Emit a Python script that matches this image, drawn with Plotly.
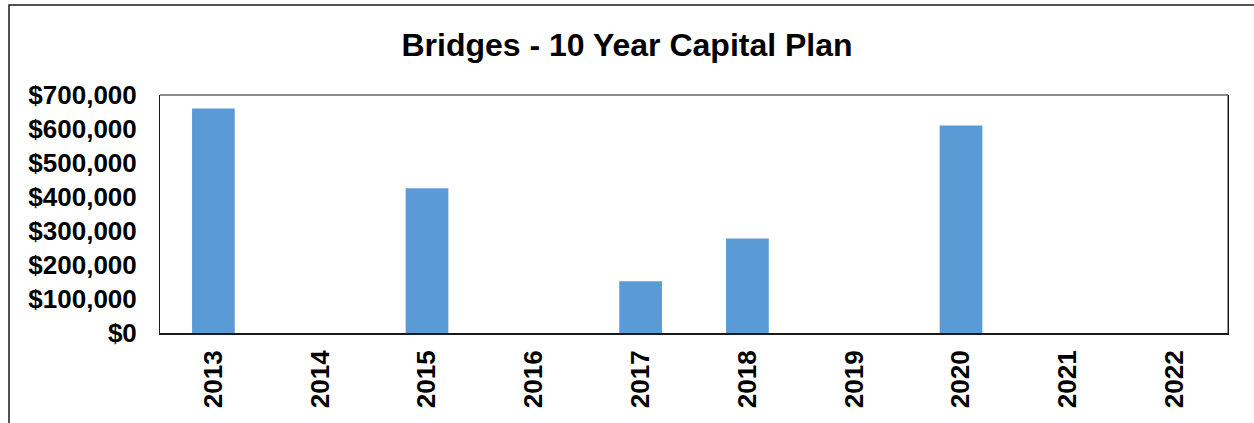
import plotly.graph_objects as go

years = ["2013", "2014", "2015", "2016", "2017", "2018", "2019", "2020", "2021", "2022"]
values = [660000, 0, 426000, 0, 152000, 278000, 0, 610000, 0, 0]
tick_vals = [0, 100000, 200000, 300000, 400000, 500000, 600000, 700000]
tick_text = ["$0", "$100,000", "$200,000", "$300,000", "$400,000", "$500,000", "$600,000", "$700,000"]
title_text = "Bridges - 10 Year Capital Plan"

FONT = "Liberation Sans, Arial, sans-serif"

fig = go.Figure(go.Bar(
    x=years, y=values,
    marker=dict(color="#5B9BD5", line=dict(color="#A9C9EA", width=0)),
))

W, H = 1254, 423
L, R, T, B = 160, 26, 95, 90
pw, ph = W - L - R, H - T - B

def px_x(p):
    return (p - L) / pw

def px_y(p):
    return (H - B - p) / ph

fig.update_layout(
    width=W, height=H,
    margin=dict(l=L, r=R, t=T, b=B, autoexpand=False),
    paper_bgcolor="white", plot_bgcolor="white",
    bargap=0.6,
    showlegend=False,
    title=dict(text=title_text, x=0.5, xanchor="center", y=1 - 45 / H, yanchor="middle",
               xref="container", yref="container",
               font=dict(family=FONT, size=32, color="black", weight="bold")),
    xaxis=dict(
        type="category", tickangle=-90, automargin=False,
        tickfont=dict(family=FONT, size=26, color="black", weight="bold"),
        showline=True, linecolor="#1a1a1a", linewidth=2, mirror=False,
        showgrid=False, ticks="", ticklabelstandoff=5,
    ),
    yaxis=dict(
        range=[0, 700000], tickvals=tick_vals, ticktext=tick_text, automargin=False,
        tickfont=dict(family=FONT, size=26, color="black", weight="bold"),
        showline=True, linecolor="#1a1a1a", linewidth=1, mirror=True,
        showgrid=False, ticks="", ticklabelstandoff=17, zeroline=False,
    ),
    shapes=[
        dict(type="rect", xref="paper", yref="paper",
             x0=px_x(9), x1=px_x(1262), y0=px_y(440), y1=px_y(5),
             line=dict(color="#1a1a1a", width=1.5), fillcolor="rgba(0,0,0,0)", layer="below"),
        dict(type="line", xref="paper", yref="paper", x0=1, x1=1, y0=0, y1=1,
             line=dict(color="#1a1a1a", width=1)),
        dict(type="line", xref="paper", yref="paper", x0=0, x1=1, y0=1, y1=1,
             line=dict(color="#1a1a1a", width=1.2)),
    ],
)

fig.write_html("out.html", config={"displayModeBar": False},
               post_script="document.body.style.margin='0';")
